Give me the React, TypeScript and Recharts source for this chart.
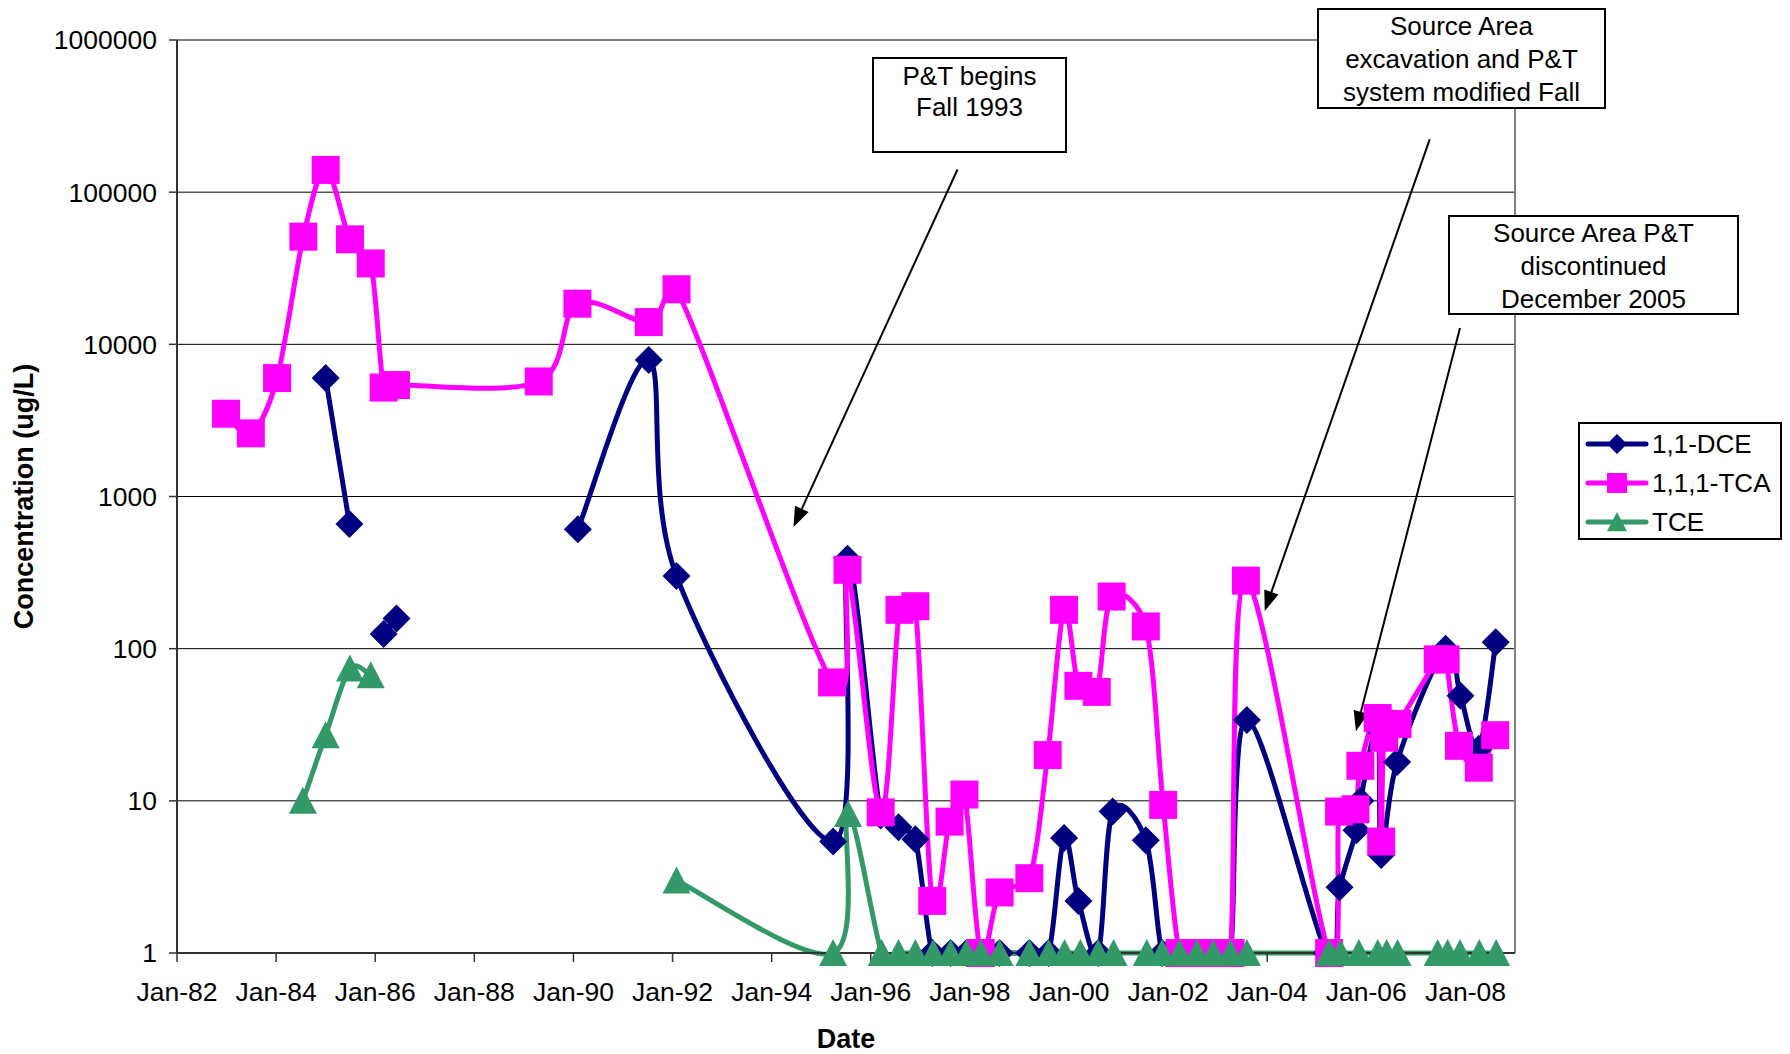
import React from 'react';
import {
  LineChart,
  Line,
  XAxis,
  YAxis,
  CartesianGrid,
  Legend,
  ReferenceLine,
} from 'recharts';

const FONT = '"Liberation Sans", Arial, Helvetica, sans-serif';

// ---------- axis ticks ----------
const X_TICKS = [1982, 1984, 1986, 1988, 1990, 1992, 1994, 1996, 1998, 2000, 2002, 2004, 2006, 2008];
const Y_TICKS = [1, 10, 100, 1000, 10000, 100000, 1000000];

// ---------- series names ----------
const DCE_NAME = '1,1-DCE';
const TCA_NAME = '1,1,1-TCA';
const TCE_NAME = 'TCE';
const LEGEND_ORDER = [DCE_NAME, TCA_NAME, TCE_NAME];

// ---------- 1,1-DCE (decimal year, ug/L) ----------
const dceDates = [1985.0, 1985.48, 1985.8, 1986.17, 1986.43, 1988.0, 1990.09, 1991.52, 1992.08, 1995.24, 1995.53, 1996.2, 1996.56, 1996.9, 1997.24, 1997.61, 1997.93, 1998.22, 1998.6, 1999.2, 1999.59, 1999.9, 2000.19, 2000.59, 2000.88, 2001.55, 2001.88, 2002.23, 2002.58, 2002.91, 2003.26, 2003.59, 2005.2, 2005.46, 2005.8, 2005.88, 2006.23, 2006.3, 2006.62, 2007.6, 2007.9, 2008.27, 2008.61];
const dceValues = [6000, 660, null, 125, 158, null, 610, 7900, 300, 5.4, 390, 8, 6.7, 5.6, 1, 1, 1, 1, 1, 1, 1, 5.7, 2.2, 1, 8.5, 5.5, 1, 1, 1, 1, 1, 34, 1, 2.7, 6.4, 10, 30, 4.4, 18, 100, 49, 22, 110];

// ---------- 1,1,1-TCA ----------
const tcaDates = [1982.99, 1983.49, 1984.02, 1984.55, 1985.0, 1985.49, 1985.91, 1986.17, 1986.42, 1989.3, 1990.08, 1991.52, 1992.08, 1995.22, 1995.53, 1996.2, 1996.58, 1996.9, 1997.24, 1997.59, 1997.89, 1998.22, 1998.6, 1999.2, 1999.57, 1999.9, 2000.19, 2000.56, 2000.86, 2001.55, 2001.9, 2002.23, 2002.58, 2002.91, 2003.26, 2003.57, 2005.25, 2005.45, 2005.78, 2005.88, 2006.23, 2006.3, 2006.36, 2006.63, 2007.44, 2007.6, 2007.87, 2008.27, 2008.6];
const tcaValues = [3500, 2600, 6000, 51000, 140000, 49000, 34000, 5200, 5400, 5700, 18500, 14000, 23000, 60, 330, 8.4, 180, 190, 2.2, 7.3, 11, 1, 2.5, 3.1, 20, 180, 57, 52, 220, 140, 9.4, 1, 1, 1, 1, 280, 1, 8.5, 8.8, 17, 35, 5.4, 26, 32, 85, 85, 23, 16.5, 27];

// ---------- TCE ----------
const tceDates = [1984.54, 1985.0, 1985.49, 1985.91, 1988.0, 1992.08, 1995.24, 1995.54, 1996.22, 1996.56, 1996.9, 1997.26, 1997.61, 1997.93, 1998.22, 1998.6, 1999.2, 1999.59, 1999.91, 2000.23, 2000.59, 2000.9, 2001.57, 2001.88, 2002.23, 2002.58, 2002.91, 2003.26, 2003.59, 2005.25, 2005.48, 2005.85, 2006.23, 2006.41, 2006.63, 2007.44, 2007.64, 2007.89, 2008.28, 2008.62];
const tceValues = [10, 27, 74, 67, null, 3.0, 1, 8.2, 1, 1, 1, 1, 1, 1, 1, 1, 1, 1, 1, 1, 1, 1, 1, 1, 1, 1, 1, 1, 1, 1, 1, 1, 1, 1, 1, 1, 1, 1, 1, 1];

// ---------- annotations ----------
const NOTE_TEXTS = [
  ['P&T begins', 'Fall 1993'],
  ['Source Area', 'excavation and P&T', 'system modified Fall'],
  ['Source Area P&T', 'discontinued', 'December 2005'],
];
// arrow start / end points, in data space (year, ug/L)
const ARROW_FROM = [
  { x: 1997.75, y: 141000 },
  { x: 2007.28, y: 223000 },
  { x: 2007.89, y: 12800 },
];
const ARROW_TO = [
  { x: 1994.44, y: 630 },
  { x: 2003.95, y: 177 },
  { x: 2005.79, y: 28.7 },
];

const toRows = (dates: number[], values: (number | null)[]) =>
  dates.map((d, i) => ({ date: d, value: values[i] }));

const dceData = toRows(dceDates, dceValues);
const tcaData = toRows(tcaDates, tcaValues);
const tceData = toRows(tceDates, tceValues);

const C_DCE = '#000080';
const C_TCA = '#FF00FF';
const C_TCE = '#339966';

// Excel-like smoothed line: Bezier with 1/6 tangents, limited to half the segment length
function excelSmooth(context: any) {
  let pts: number[][] = [];
  let line: number = NaN;
  const dist = (a: number[], b: number[]) => Math.hypot(a[0] - b[0], a[1] - b[1]);
  return {
    areaStart() { line = 0; },
    areaEnd() { line = NaN; },
    lineStart() { pts = []; },
    lineEnd() {
      const n = pts.length;
      if (n > 0) {
        if (line) context.lineTo(pts[0][0], pts[0][1]);
        else context.moveTo(pts[0][0], pts[0][1]);
        if (n === 2) {
          context.lineTo(pts[1][0], pts[1][1]);
        } else if (n > 2) {
          for (let i = 0; i < n - 1; i++) {
            const p0 = pts[Math.max(i - 1, 0)];
            const p1 = pts[i];
            const p2 = pts[i + 1];
            const p3 = pts[Math.min(i + 2, n - 1)];
            const d12 = dist(p1, p2);
            const d02 = dist(p0, p2);
            const d13 = dist(p1, p3);
            let f = 1 / 6;
            let g = 1 / 6;
            if (d02 > 0 && d02 / 6 >= d12 / 2) f = d12 / (2 * d02);
            if (d13 > 0 && d13 / 6 >= d12 / 2) g = d12 / (2 * d13);
            context.bezierCurveTo(
              p1[0] + f * (p2[0] - p0[0]),
              p1[1] + f * (p2[1] - p0[1]),
              p2[0] - g * (p3[0] - p1[0]),
              p2[1] - g * (p3[1] - p1[1]),
              p2[0],
              p2[1]
            );
          }
        }
        if (line || (line !== 0 && n === 1)) context.closePath();
      }
      line = 1 - line;
    },
    point(x: number, y: number) {
      pts.push([+x, +y]);
    },
  };
}

const shapePath = (type: string, cx: number, cy: number, r: number, color: string, key?: any) => {
  if (type === 'diamond') {
    return <polygon key={key} points={`${cx},${cy - r} ${cx + r},${cy} ${cx},${cy + r} ${cx - r},${cy}`} fill={color} />;
  }
  if (type === 'square') {
    return <rect key={key} x={cx - r} y={cy - r} width={2 * r} height={2 * r} fill={color} />;
  }
  return <polygon key={key} points={`${cx},${cy - r} ${cx + r},${cy + r * 0.93} ${cx - r},${cy + r * 0.93}`} fill={color} />;
};

const makeDot = (type: string, color: string) => (props: any) => {
  const { cx, cy, index, value } = props;
  if (cx == null || cy == null || value == null || isNaN(cx) || isNaN(cy)) return <g key={`e-${type}-${index}`} />;
  return shapePath(type, cx, cy, 14, color, `d-${type}-${index}`);
};

const ArrowShape = (props: any) => {
  const { x1, y1, x2, y2 } = props;
  if ([x1, y1, x2, y2].some((v) => v == null || isNaN(v))) return <g />;
  const dx = x2 - x1, dy = y2 - y1;
  const len = Math.sqrt(dx * dx + dy * dy) || 1;
  const ux = dx / len, uy = dy / len;
  const hl = 20, hw = 7.5;
  const bx = x2 - ux * hl, by = y2 - uy * hl;
  return (
    <g>
      <line x1={x1} y1={y1} x2={bx} y2={by} stroke="#000" strokeWidth={2} />
      <polygon
        points={`${x2},${y2} ${bx - uy * hw},${by + ux * hw} ${bx + uy * hw},${by - ux * hw}`}
        fill="#000"
      />
    </g>
  );
};

const LegendContent = (props: any) => {
  const payload = [...(props.payload || [])].sort(
    (a: any, b: any) => LEGEND_ORDER.indexOf(a.value) - LEGEND_ORDER.indexOf(b.value)
  );
  return (
    <div
      style={{
        width: 204,
        height: 118,
        boxSizing: 'border-box',
        border: '2px solid #000',
        background: '#fff',
        paddingTop: 0,
        fontFamily: FONT,
        fontSize: 26,
        color: '#000',
      }}
    >
      {payload.map((entry: any, i: number) => (
        <div key={i} style={{ display: 'flex', alignItems: 'center', height: 39 }}>
          <svg width={66} height={26} style={{ marginLeft: 4, display: 'block' }}>
            <line x1={4} y1={13} x2={62} y2={13} stroke={entry.color} strokeWidth={5} strokeLinecap="round" />
            {shapePath(entry.type, 33, 13, 10, entry.color)}
          </svg>
          <span style={{ marginLeft: 2, lineHeight: '26px' }}>{entry.value}</span>
        </div>
      ))}
    </div>
  );
};

const YLabel = (props: any) => {
  const vb = props.viewBox || { x: 0, y: 0, width: 0, height: 0 };
  const x = vb.x + 25;
  const y = vb.y + vb.height / 2;
  return (
    <text
      x={x}
      y={y}
      transform={`rotate(-90 ${x} ${y})`}
      textAnchor="middle"
      fontFamily={FONT}
      fontSize={27}
      fontWeight="bold"
      fill="#000"
    >
      Concentration (ug/L)
    </text>
  );
};

const NOTE_BOXES = [
  { left: 864, top: 49, width: 195, height: 96, lineHeight: 31, pad: 2 },
  { left: 1309, top: 0, width: 289, height: 101, lineHeight: 33, pad: 0 },
  { left: 1440, top: 207, width: 291, height: 100, lineHeight: 33, pad: 0 },
];

const xFmt = (v: number) => 'Jan-' + String(Math.round(v) % 100).padStart(2, '0');

export default function App() {
  return (
    <div style={{ position: 'relative', width: 1774, height: 1046, fontFamily: FONT }}>
      <LineChart width={1774} height={1046} margin={{ top: 32, right: 267, bottom: 0, left: 0 }}>
        <CartesianGrid horizontal vertical={false} stroke="#000" strokeWidth={1} />
        <ReferenceLine x={2009} stroke="#808080" strokeWidth={2} ifOverflow="visible" />
        <XAxis
          dataKey="date"
          type="number"
          domain={[1982, 2009]}
          ticks={X_TICKS}
          interval={0}
          tickFormatter={xFmt}
          height={101}
          tickSize={9}
          tickMargin={20}
          axisLine={{ stroke: '#333', strokeWidth: 2 }}
          tickLine={{ stroke: '#333', strokeWidth: 1.5 }}
          tick={{ fontSize: 26.5, fill: '#000', fontFamily: FONT }}
          label={{
            value: 'Date',
            position: 'insideBottom',
            offset: 6,
            style: { fontSize: 27, fontWeight: 'bold', fill: '#000', fontFamily: FONT },
          }}
        />
        <YAxis
          type="number"
          scale="log"
          domain={[1, 1000000]}
          ticks={Y_TICKS}
          interval={0}
          width={169}
          tickSize={8}
          tickMargin={12}
          tickFormatter={(v: number) => String(v)}
          axisLine={{ stroke: '#333', strokeWidth: 2 }}
          tickLine={{ stroke: '#333', strokeWidth: 1.5 }}
          tick={{ fontSize: 26.5, fill: '#000', fontFamily: FONT }}
          label={{ content: YLabel }}
        />
        {ARROW_FROM.map((from, i) => (
          <ReferenceLine
            key={`arrow-${i}`}
            segment={[from, ARROW_TO[i]]}
            shape={ArrowShape}
            ifOverflow="visible"
          />
        ))}
        <Line
          data={dceData}
          dataKey="value"
          name={DCE_NAME}
          type={excelSmooth as any}
          stroke={C_DCE}
          strokeWidth={5}
          dot={makeDot('diamond', C_DCE)}
          activeDot={false}
          legendType="diamond"
          connectNulls={false}
          isAnimationActive={false}
        />
        <Line
          data={tcaData}
          dataKey="value"
          name={TCA_NAME}
          type={excelSmooth as any}
          stroke={C_TCA}
          strokeWidth={5}
          dot={makeDot('square', C_TCA)}
          activeDot={false}
          legendType="square"
          connectNulls={false}
          isAnimationActive={false}
        />
        <Line
          data={tceData}
          dataKey="value"
          name={TCE_NAME}
          type={excelSmooth as any}
          stroke={C_TCE}
          strokeWidth={5}
          dot={makeDot('triangle', C_TCE)}
          activeDot={false}
          legendType="triangle"
          connectNulls={false}
          isAnimationActive={false}
        />
        <Legend
          layout="vertical"
          align="center"
          verticalAlign="middle"
          content={LegendContent}
          wrapperStyle={{ left: 1570, top: 414, width: 204, height: 118 }}
        />
      </LineChart>
      {NOTE_TEXTS.map((lines, i) => {
        const b = NOTE_BOXES[i];
        return (
          <div
            key={`note-${i}`}
            style={{
              position: 'absolute',
              left: b.left,
              top: b.top,
              width: b.width,
              height: b.height,
              boxSizing: 'border-box',
              border: '2px solid #000',
              background: '#fff',
              textAlign: 'center',
              fontFamily: FONT,
              fontSize: 26,
              lineHeight: `${b.lineHeight}px`,
              paddingTop: b.pad,
              color: '#000',
              whiteSpace: 'nowrap',
            }}
          >
            {lines.map((t, j) => (
              <div key={j}>{t}</div>
            ))}
          </div>
        );
      })}
    </div>
  );
}
